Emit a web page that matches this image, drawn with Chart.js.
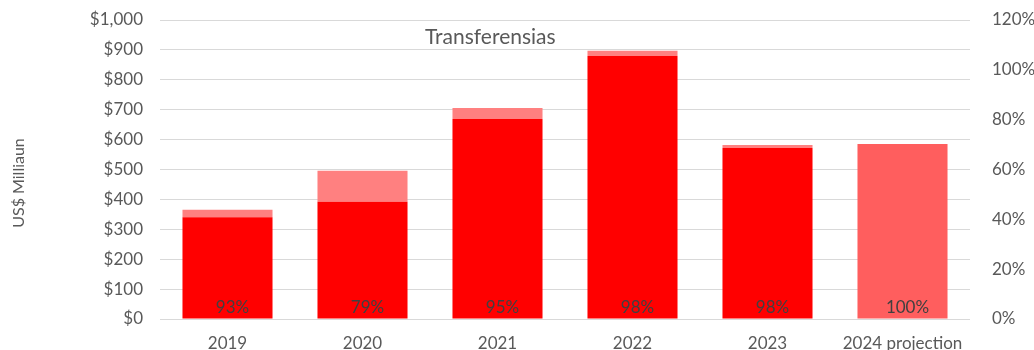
<!DOCTYPE html>
<html>
<head>
<meta charset="utf-8">
<script src="https://cdn.jsdelivr.net/npm/chart.js@4.4.1/dist/chart.umd.min.js"></script>
<style>
  html, body { margin: 0; padding: 0; background: #fff; }
  #wrap { width: 1034px; height: 350px; }
</style>
</head>
<body>
<div id="wrap"><canvas id="transferChart"></canvas></div>
<script>
const years = ['2019', '2020', '2021', '2022', '2023', '2024 projection'];
const budget = [365, 496, 706, 897, 582, 585];   // US$ million allocated
const spent = [340, 392, 669, 880, 572, 585];    // US$ million transferred
const spentPct = [93, 79, 95, 98, 98, 100];      // share of allocation used
const yTicks = [0, 100, 200, 300, 400, 500, 600, 700, 800, 900, 1000];

const unspent = budget.map((b, i) => b - spent[i]);
const spentColors = years.map(y => y.indexOf('projection') >= 0 ? '#FF5E5E' : '#FF0000');

const textGrey = '#595959';
const fontFamily = 'Lato, "Open Sans", sans-serif';

// plot band: top of $1,000 line and the $0 baseline
const plotTop = 20;
const plotBottom = 319;

// pin the vertical extent of the plot, the auto layout leaves too much room above
const pinArea = {
    id: 'pinArea',
    afterLayout(chart) {
        const area = chart.chartArea;
        area.top = plotTop;
        area.bottom = plotBottom;
        area.height = plotBottom - plotTop;
        ['y', 'y1'].forEach(id => {
            const s = chart.scales[id];
            s.top = plotTop;
            s.bottom = plotBottom;
            s.height = plotBottom - plotTop;
            s.configure();
        });
        const x = chart.scales.x;
        x.top = plotBottom;
        x.bottom = chart.height;
        x.height = chart.height - plotBottom;
        x.configure();
    }
};

// % used labels along the bottom of each bar, the caption and the left axis title
const extraText = {
    id: 'extraText',
    afterDatasetsDraw(chart) {
        const ctx = chart.ctx;
        const meta = chart.getDatasetMeta(0);
        const base = chart.scales.y.getPixelForValue(0);
        ctx.save();
        ctx.font = '17px ' + fontFamily;
        ctx.fillStyle = '#404040';
        ctx.textAlign = 'center';
        ctx.textBaseline = 'middle';
        meta.data.forEach((bar, i) => {
            ctx.fillText(spentPct[i] + '%', bar.x + 5, base - 11);
        });
        ctx.fillStyle = textGrey;
        ctx.font = '21px ' + fontFamily;
        ctx.textAlign = 'left';
        ctx.fillText('Transferensias', 425, 37);

        ctx.font = '16px ' + fontFamily;
        ctx.textAlign = 'center';
        ctx.translate(19, 183);
        ctx.rotate(-Math.PI / 2);
        ctx.fillText('US$ Milliaun', 0, 0);
        ctx.restore();
    }
};

const ctx = document.getElementById('transferChart').getContext('2d');
new Chart(ctx, {
    type: 'bar',
    data: {
        labels: years,
        datasets: [{
            label: 'Transferred',
            data: spent,
            backgroundColor: spentColors,
            yAxisID: 'y',
            order: 2
        }, {
            label: 'Not transferred',
            data: unspent,
            backgroundColor: '#FF8080',
            yAxisID: 'y',
            order: 2
        }, {
            type: 'line',
            label: '% used',
            data: spentPct,
            yAxisID: 'y1',
            showLine: false,
            pointRadius: 0,
            pointHoverRadius: 0,
            order: 1
        }]
    },
    options: {
        responsive: true,
        maintainAspectRatio: false,
        animation: false,
        layout: { padding: { left: 0, right: 0, top: 10, bottom: 0 } },
        datasets: {
            bar: { categoryPercentage: 1, barPercentage: 0.667 }
        },
        plugins: {
            legend: { display: false },
            tooltip: { enabled: false }
        },
        scales: {
            x: {
                stacked: true,
                grid: { display: false, drawTicks: false },
                border: { display: false },
                ticks: {
                    color: textGrey,
                    font: { family: fontFamily, size: 17 },
                    padding: 14,
                    maxRotation: 0
                },
                afterFit: s => { s.height = 31; }
            },
            y: {
                stacked: true,
                min: 0,
                max: 1000,
                afterBuildTicks: scale => { scale.ticks = yTicks.map(v => ({ value: v })); },
                grid: { color: '#D9D9D9', drawTicks: false },
                border: { display: false },
                ticks: {
                    color: textGrey,
                    font: { family: fontFamily, size: 17 },
                    padding: 17,
                    callback: v => '$' + v.toLocaleString('en-US')
                },
                afterFit: s => { s.width = 160; }
            },
            y1: {
                position: 'right',
                min: 0,
                max: 120,
                grid: { display: false, drawTicks: false },
                border: { display: false },
                ticks: {
                    stepSize: 20,
                    color: textGrey,
                    font: { family: fontFamily, size: 17 },
                    padding: 22,
                    callback: v => v + '%'
                },
                afterFit: s => { s.width = 64; }
            }
        }
    },
    plugins: [pinArea, extraText]
});
</script>
</body>
</html>
